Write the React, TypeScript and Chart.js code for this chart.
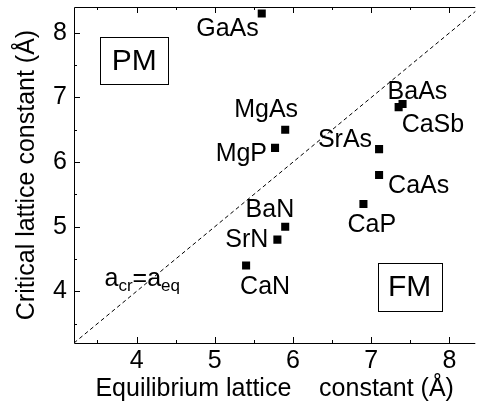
import React, { useEffect, useRef } from 'react';
import { Chart, registerables } from 'chart.js';

Chart.register(...registerables);

// ---- data ----
const compounds = ['GaAs', 'MgAs', 'MgP', 'SrAs', 'CaAs', 'BaAs', 'CaSb', 'CaP', 'BaN', 'SrN', 'CaN'];
const eqLattice = [5.6, 5.9, 5.77, 7.1, 7.1, 7.4, 7.35, 6.9, 5.9, 5.8, 5.4];
const crLattice = [8.3, 6.5, 6.22, 6.2, 5.8, 6.9, 6.85, 5.35, 5.0, 4.8, 4.4];
const xTicks = [4, 5, 6, 7, 8];
const yTicks = [4, 5, 6, 7, 8];
const xMinorTicks = [3.5, 4.5, 5.5, 6.5, 7.5];
const yMinorTicks = [3.5, 4.5, 5.5, 6.5, 7.5];
const diagonalX = [3.2, 8.4];
const diagonalY = [3.2, 8.4];
const xTitle = 'Equilibrium lattice    constant (Å)';
const yTitle = 'Critical lattice constant (Å)';
const regionLabels = ['PM', 'FM'];
const regionX = [3.97, 7.49];
const regionY = [7.57, 4.06];
const eqLabelPos = [3.59, 4.08];

// ---- label styling (pixel offsets from each point) ----
const labelStyle: { align: CanvasTextAlign; dx: number; dy: number }[] = [
  { align: 'right', dx: -3, dy: 23 }, // GaAs
  { align: 'left', dx: -51, dy: -13 }, // MgAs
  { align: 'right', dx: -8, dy: 13 }, // MgP
  { align: 'right', dx: -7, dy: -2 }, // SrAs
  { align: 'left', dx: 9, dy: 18 }, // CaAs
  { align: 'left', dx: -15, dy: -5 }, // BaAs
  { align: 'left', dx: 3, dy: 25 }, // CaSb
  { align: 'left', dx: -16, dy: 28 }, // CaP
  { align: 'right', dx: 9, dy: -10 }, // BaN
  { align: 'right', dx: -9, dy: 7 }, // SrN
  { align: 'left', dx: -6, dy: 29 }, // CaN
];

const FONT = '"Liberation Sans", Arial, sans-serif';
const FS = 25;

const annotPlugin = {
  id: 'annot',
  afterDatasetsDraw(chart: any) {
    const { ctx, chartArea, scales } = chart;
    const xs = scales.x;
    const ys = scales.y;
    const { left, right, top, bottom } = chartArea;
    ctx.save();
    ctx.strokeStyle = '#000';
    ctx.fillStyle = '#000';
    ctx.lineWidth = 1;
    ctx.setLineDash([]);

    // frame: left, bottom, top
    ctx.beginPath();
    ctx.moveTo(left + 0.5, top + 0.5);
    ctx.lineTo(left + 0.5, bottom + 0.5);
    ctx.lineTo(right, bottom + 0.5);
    ctx.moveTo(left + 0.5, top + 0.5);
    ctx.lineTo(right, top + 0.5);
    ctx.stroke();

    // ticks (inward)
    ctx.beginPath();
    const xt = (v: number, len: number) => {
      const px = Math.round(xs.getPixelForValue(v)) + 0.5;
      ctx.moveTo(px, bottom);
      ctx.lineTo(px, bottom - len);
      ctx.moveTo(px, top);
      ctx.lineTo(px, top + len);
    };
    const yt = (v: number, len: number) => {
      const py = Math.round(ys.getPixelForValue(v)) + 0.5;
      ctx.moveTo(left, py);
      ctx.lineTo(left + len, py);
    };
    xTicks.forEach((v) => xt(v, 6));
    xMinorTicks.forEach((v) => xt(v, 3));
    yTicks.forEach((v) => yt(v, 6));
    yMinorTicks.forEach((v) => yt(v, 3));
    ctx.stroke();

    // point labels
    ctx.font = `${FS}px ${FONT}`;
    ctx.textBaseline = 'alphabetic';
    compounds.forEach((name, i) => {
      const s = labelStyle[i];
      const px = xs.getPixelForValue(eqLattice[i]);
      const py = ys.getPixelForValue(crLattice[i]);
      ctx.textAlign = s.align;
      ctx.fillText(name, px + s.dx, py + s.dy);
    });

    // region boxes
    const boxW = [68, 64];
    const boxH = [47, 48];
    regionLabels.forEach((t, i) => {
      const cx = xs.getPixelForValue(regionX[i]);
      const cy = ys.getPixelForValue(regionY[i]);
      const bx = Math.round(cx - boxW[i] / 2) + 0.5;
      const by = Math.round(cy - boxH[i] / 2) + 0.5;
      ctx.strokeRect(bx, by, boxW[i], boxH[i]);
      ctx.font = `30px ${FONT}`;
      ctx.textAlign = 'center';
      ctx.fillText(t, cx, cy + 9);
    });

    // a_cr = a_eq
    let ex = xs.getPixelForValue(eqLabelPos[0]);
    const ey = ys.getPixelForValue(eqLabelPos[1]);
    ctx.textAlign = 'left';
    const parts: [string, boolean][] = [
      ['a', false],
      ['cr', true],
      ['=a', false],
      ['eq', true],
    ];
    parts.forEach(([t, sub]) => {
      ctx.font = sub ? `17px ${FONT}` : `${FS}px ${FONT}`;
      ctx.fillText(t, ex, ey + (sub ? 5 : 0));
      ex += ctx.measureText(t).width;
    });

    ctx.restore();
  },
};

export default function App() {
  const ref = useRef<HTMLCanvasElement | null>(null);
  useEffect(() => {
    document.body.style.margin = '0';
    const canvas = ref.current;
    if (!canvas) return;
    Chart.defaults.color = '#000';
    const chart = new Chart(canvas, {
      type: 'scatter',
      data: {
        datasets: [
          {
            data: diagonalX.map((v, i) => ({ x: v, y: diagonalY[i] })),
            showLine: true,
            borderColor: '#000',
            borderWidth: 1,
            borderDash: [4, 3],
            pointRadius: 0,
            fill: false,
          } as any,
          {
            data: eqLattice.map((v, i) => ({ x: v, y: crLattice[i] })),
            pointStyle: 'rect',
            pointRadius: 5.7,
            backgroundColor: '#000',
            borderWidth: 0,
          },
        ],
      },
      options: {
        responsive: false,
        animation: false,
        devicePixelRatio: 1,
        layout: { padding: { top: 7, right: 0, left: 0, bottom: 0 } },
        plugins: { legend: { display: false }, tooltip: { enabled: false } },
        scales: {
          x: {
            type: 'linear',
            min: 3.2,
            max: 8.33,
            grid: { display: false, drawTicks: false },
            border: { display: false },
            afterBuildTicks: (s: any) => {
              s.ticks = xTicks.map((v) => ({ value: v }));
            },
            afterFit: (s: any) => {
              s.height = 71;
              s.paddingLeft = 0;
              s.paddingRight = 0;
            },
            ticks: {
              font: { family: FONT, size: FS },
              color: '#000',
              padding: 3,
              maxRotation: 0,
              autoSkip: false,
            },
            title: {
              display: true,
              text: xTitle,
              font: { family: FONT, size: FS },
              color: '#000',
              padding: { top: 0, bottom: 10 },
            },
          },
          y: {
            type: 'linear',
            min: 3.2,
            max: 8.4,
            grid: { display: false, drawTicks: false },
            border: { display: false },
            afterBuildTicks: (s: any) => {
              s.ticks = yTicks.map((v) => ({ value: v }));
            },
            afterFit: (s: any) => {
              s.width = 74;
              s.paddingTop = 0;
              s.paddingBottom = 0;
            },
            ticks: {
              font: { family: FONT, size: FS },
              color: '#000',
              padding: 7,
              autoSkip: false,
            },
            title: {
              display: true,
              text: yTitle,
              font: { family: FONT, size: FS },
              color: '#000',
              padding: { top: 12, bottom: 0 },
            },
          },
        },
      },
      plugins: [annotPlugin],
    });
    return () => chart.destroy();
  }, []);
  return <canvas ref={ref} width={481} height={414} style={{ display: 'block' }} />;
}
